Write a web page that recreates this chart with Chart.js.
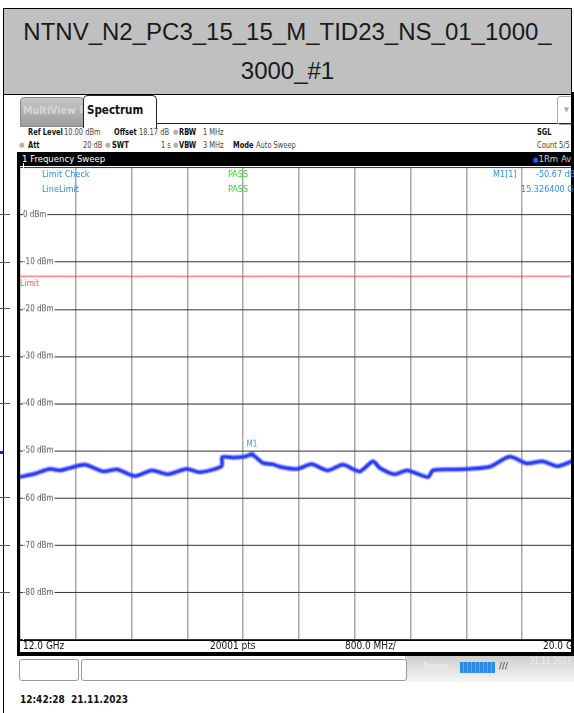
<!DOCTYPE html>
<html>
<head>
<meta charset="utf-8">
<script src="https://cdn.jsdelivr.net/npm/chart.js@4.4.1/dist/chart.umd.min.js"></script>
<style>
  html, body { margin: 0; padding: 0; width: 574px; height: 713px; overflow: hidden; background: #fff; }
  body { position: relative; font-family: "DejaVu Sans Condensed", "Liberation Sans", sans-serif; }
  .abs { position: absolute; white-space: nowrap; }
  #title { left: 3px; top: 8px; width: 567px; height: 82px; background: #c0c0c0; border: 1.5px solid #000;
           font-family: "Liberation Sans", Arial, sans-serif; font-size: 24px; color: #1a1a1a; text-align: center; line-height: 39px; padding-top: 3px; }
  .i { position: absolute; white-space: nowrap; font-size: 9.5px; color: #444; transform: scaleX(0.78); transform-origin: 0 0; }
  .i.b { font-weight: bold; color: #111; }
  .d { position: absolute; font-size: 7px; color: #b0b0b0; }
  .blue { color: #2f8ee6; font-size: 9px; }
  .green { color: #2fd82f; font-size: 9px; }
  .frag { position: absolute; left: 0; width: 10px; height: 1px; background: #555; }
</style>
</head>
<body>
<div id="title" class="abs">NTNV_N2_PC3_15_15_M_TID23_NS_01_1000_<br>3000_#1</div>

<!-- left strip (cut-off neighbour screenshot) -->
<div class="abs" style="left:3px;top:92px;width:1px;height:621px;background:#000"></div>
<div class="frag" style="top:214px"></div><div class="frag" style="top:262px"></div>
<div class="frag" style="top:308px"></div><div class="frag" style="top:356px"></div>
<div class="frag" style="top:403px"></div><div class="frag" style="top:497px"></div>
<div class="frag" style="top:545px"></div><div class="frag" style="top:592px"></div>
<div class="abs" style="left:0;top:451px;width:3px;height:3px;background:#1020f0"></div>

<!-- tabs -->
<div class="abs" style="left:20px;top:97px;width:62px;height:28px;background:linear-gradient(#c8c8c8,#9c9c9c);border:1px solid #888;border-radius:4px 4px 0 0;"></div>
<div class="abs" style="left:23px;top:104px;font-size:10.5px;font-weight:bold;color:#d6d6d6">MultiView ⠿</div>
<div class="abs" style="left:83px;top:95px;width:72px;height:32px;background:#fff;border:1px solid #222;border-bottom:none;border-radius:5px 5px 0 0;"></div>
<div class="abs" style="left:87px;top:103px;font-size:11.5px;font-weight:bold;color:#111">Spectrum</div>
<div class="abs" style="left:156px;top:123px;width:418px;height:1px;background:#222"></div>
<div class="abs" style="left:557px;top:96px;width:17px;height:27px;border:1px solid #aaa;border-radius:3px;color:#aaa;font-size:7px;line-height:27px;text-align:center">▼</div>

<!-- setting rows -->
<div class="i b" style="left:28px;top:126px">Ref Level</div><div class="i" style="left:64px;top:126px">10.00 dBm</div>
<div class="i b" style="left:114px;top:126px">Offset</div><div class="i" style="left:139px;top:126px">18.17 dB</div>
<div class="d" style="left:173px;top:128px">●</div><div class="i b" style="left:179px;top:126px">RBW</div><div class="i" style="left:203px;top:126px">1 MHz</div>
<div class="d" style="left:19px;top:141px">●</div><div class="i b" style="left:28px;top:139px">Att</div>
<div class="i" style="left:83px;top:139px">20 dB</div>
<div class="d" style="left:105px;top:141px">●</div><div class="i b" style="left:112px;top:139px">SWT</div>
<div class="i" style="left:161px;top:139px">1 s</div>
<div class="d" style="left:173px;top:141px">●</div><div class="i b" style="left:179px;top:139px">VBW</div><div class="i" style="left:203px;top:139px">3 MHz</div>
<div class="i b" style="left:233px;top:139px">Mode</div><div class="i" style="left:256px;top:139px">Auto Sweep</div>
<div class="i b" style="left:537px;top:126px">SGL</div>
<div class="i" style="left:537px;top:139px">Count 5/5</div>

<!-- trace header bar -->
<div class="abs" style="left:17px;top:152px;width:557px;height:14px;background:#000"></div>
<div class="abs" style="left:22px;top:153px;font-size:9.5px;color:#fff">1 Frequency Sweep</div>
<div class="abs" style="left:533px;top:153px;font-size:9.5px;color:#ccc"><span style="color:#2060ff;font-size:7px">●</span>1Rm Avg</div>

<!-- plot -->
<canvas id="spec" class="abs" width="558" height="471" style="left:20px;top:168px"></canvas>
<div class="abs" style="left:17px;top:152px;width:3px;height:504px;background:#000"></div>
<div class="abs" style="left:571px;top:92px;width:3px;height:564px;background:#000"></div>

<div class="abs blue" style="left:42px;top:169px">Limit Check</div>
<div class="abs blue" style="left:42px;top:184px">LineLimit</div>
<div class="abs green" style="left:228px;top:169px">PASS</div>
<div class="abs green" style="left:228px;top:184px">PASS</div>
<div class="abs blue" style="left:493px;top:169px">M1[1]</div>
<div class="abs blue" style="left:536px;top:169px">-50.67 dBm</div>
<div class="abs blue" style="left:521px;top:184px">15.326400 GHz</div>
<div class="abs" style="left:20px;top:278px;font-size:8.5px;color:#ff5a5a">Limit</div>

<!-- bottom bar -->
<div class="abs" style="left:20px;top:640px;width:554px;height:1px;background:#000"></div>
<div class="abs" style="left:23px;top:640px;font-size:10px;color:#111">12.0 GHz</div>
<div class="abs" style="left:210px;top:640px;font-size:10px;color:#111">20001 pts</div>
<div class="abs" style="left:345px;top:640px;font-size:10px;color:#111">800.0 MHz/</div>
<div class="abs" style="left:543px;top:640px;font-size:10px;color:#111">20.0 GHz</div>
<div class="abs" style="left:17px;top:652px;width:557px;height:4px;background:#000"></div>

<!-- status bar -->
<div class="abs" style="left:405px;top:656px;width:169px;height:26px;background:linear-gradient(#cdcdcd,#f6f6f6)"></div>
<div class="abs" style="left:19px;top:659px;width:58px;height:20px;border:1px solid #999;border-radius:3px;background:#fff"></div>
<div class="abs" style="left:81px;top:659px;width:324px;height:20px;border:1px solid #999;border-radius:3px;background:#fff"></div>
<div class="abs" style="left:423px;top:661px;font-size:9px;color:#f2f2f2">Ready</div>
<div class="abs" style="left:460px;top:662px;width:35px;height:11px;background:repeating-linear-gradient(90deg,#2a8ae8 0 3px,#5aaaf5 3px 4px)"></div>
<div class="abs" style="left:499px;top:661px;font-size:9px;color:#555;font-weight:bold">///</div>
<div class="abs" style="left:530px;top:657px;font-size:8px;color:#f0f0f0">21.11.2023</div>

<div class="abs" style="left:20px;top:694px;font-size:10px;font-weight:bold;color:#111">12:42:28&nbsp; 21.11.2023</div>

<script>
// trace (GHz / dBm)
const freqGHz = [12.0, 12.21, 12.43, 12.57, 12.71, 12.93, 13.19, 13.39, 13.65, 13.89, 14.12, 14.39, 14.58,
  14.89, 14.90, 15.05, 15.22, 15.33, 15.48, 15.62, 15.72, 15.97, 16.18, 16.41, 16.63, 16.87, 17.06, 17.16,
  17.37, 17.55, 17.85, 17.92, 18.21, 18.41, 18.74, 19.02, 19.26, 19.49, 19.71, 19.91, 20.0];
const levelDbm = [-55.5, -54.8, -53.8, -54.1, -53.6, -52.9, -54.3, -53.9, -55.3, -54.1, -54.9, -53.8, -54.5,
  -53.2, -51.3, -51.4, -51.2, -50.8, -52.5, -52.8, -53.3, -53.8, -52.8, -54.1, -52.9, -54.3, -52.2, -53.6,
  -54.9, -54.1, -55.5, -54.1, -53.9, -53.8, -53.3, -51.2, -52.6, -52.2, -53.2, -52.2, -52.0];
const limitDbm = -13;
const marker = { freq: 15.3264, level: -50.67, name: 'M1' };
const xRange = [12, 20], xStep = 0.8;
const yRange = [-90, 10], yStep = 10;

const trace = freqGHz.map((f, i) => ({ x: f, y: levelDbm[i] }));

const markerLabel = {
  id: 'markerLabel',
  afterDatasetsDraw(chart) {
    const pt = chart.getDatasetMeta(3).data[0];
    if (!pt) return;
    const c = chart.ctx;
    c.save();
    c.font = '8px "DejaVu Sans Condensed", sans-serif';
    c.fillStyle = '#3a9ad9';
    c.textAlign = 'center';
    c.fillText(marker.name, pt.x, pt.y - 8);
    c.restore();
  }
};

const chart = new Chart(document.getElementById('spec').getContext('2d'), {
  type: 'line',
  data: {
    datasets: [
      { data: trace, borderColor: 'rgba(70,90,255,0.5)', borderWidth: 5.5, pointRadius: 0, tension: 0.25 },
      { data: trace, borderColor: 'rgb(15,25,245)', borderWidth: 3, pointRadius: 0, tension: 0.25 },
      { data: [{ x: xRange[0], y: limitDbm }, { x: xRange[1], y: limitDbm }], borderColor: '#ff3b3b', borderWidth: 1, pointRadius: 0 },
      { data: [{ x: marker.freq, y: marker.level }], showLine: false, pointStyle: 'triangle', rotation: 180,
        pointRadius: 3.5, backgroundColor: '#2a8cff', borderColor: '#2a8cff', borderWidth: 0 }
    ]
  },
  options: {
    responsive: false,
    maintainAspectRatio: false,
    animation: false,
    layout: { padding: 0 },
    plugins: { legend: { display: false }, tooltip: { enabled: false } },
    scales: {
      x: { type: 'linear', min: xRange[0], max: xRange[1],
           ticks: { display: false, stepSize: xStep },
           grid: { color: '#a8a8a8', lineWidth: 1.5, drawTicks: false },
           border: { display: false } },
      y: { min: yRange[0], max: yRange[1],
           ticks: { stepSize: yStep, mirror: true, padding: 3, color: '#555',
                    font: { family: 'DejaVu Sans Condensed', size: 8 },
                    showLabelBackdrop: true, backdropColor: '#fff', backdropPadding: { left: 0, right: 1, top: 0, bottom: 0 },
                    callback: v => (v === yRange[0] || v === yRange[1]) ? '' : v + ' dBm' },
           grid: { color: '#333', lineWidth: 1, drawTicks: false },
           border: { display: false } }
    }
  },
  plugins: [markerLabel]
});

// pull the plot area onto the instrument's graticule (20..578 x 168..639)
for (let k = 0; k < 3; k++) {
  const ca = chart.chartArea;
  const padL = ca.left, padT = ca.top, padR = chart.width - ca.right, padB = chart.height - ca.bottom;
  chart.canvas.style.left = (20 - padL) + 'px';
  chart.canvas.style.top = (168 - padT) + 'px';
  chart.resize(558 + padL + padR, 471 + padT + padB);
}
</script>
</body>
</html>
